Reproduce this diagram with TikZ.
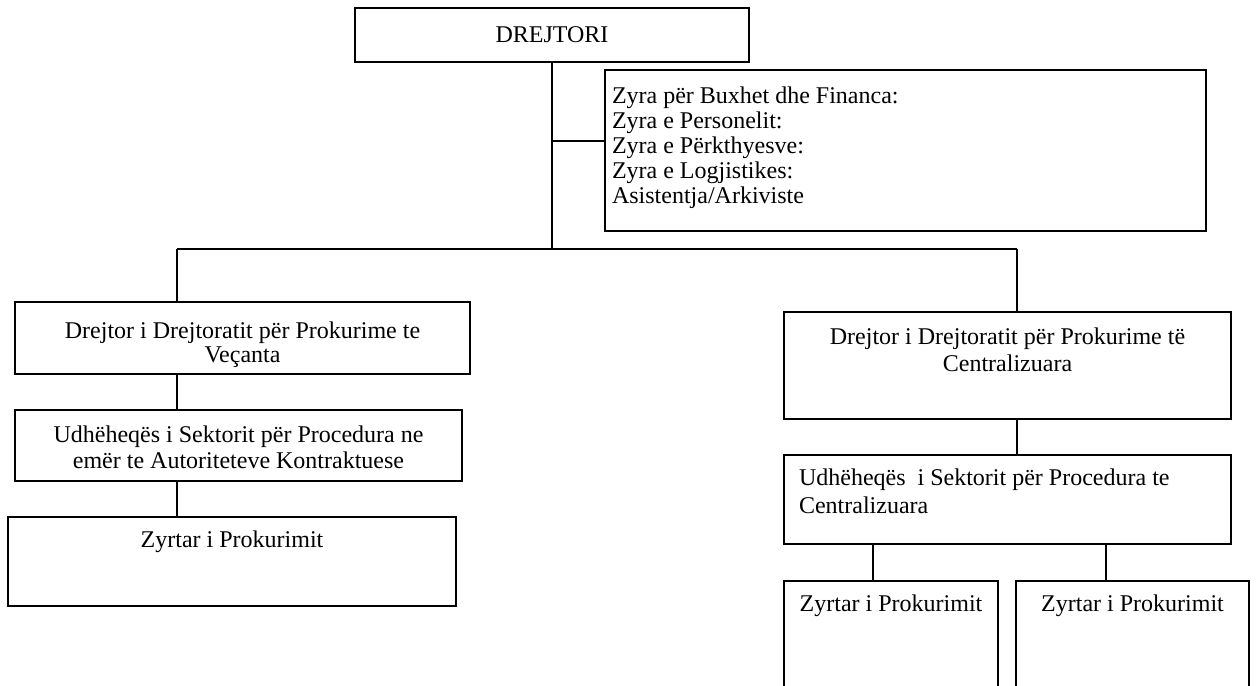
\documentclass[tikz,border=0pt]{standalone}
\usepackage{fontspec}
\setmainfont{Liberation Serif}
\begin{document}
\begin{tikzpicture}[x=0.5pt,y=-0.5pt,
  box/.style={draw=black, line width=1pt, inner sep=0pt, outer sep=0pt, anchor=north west, rectangle},
  conn/.style={draw=black, line width=1pt},
  lbl/.style={inner sep=0pt, outer sep=0pt, align=center, anchor=north},
  lbll/.style={inner sep=0pt, outer sep=0pt, align=left, anchor=north west}
]
\useasboundingbox (0,0) rectangle (1256,685);
\clip (0,0) rectangle (1256,685);
% boxes
\node[box, minimum width=197pt, minimum height=27pt] (D) at (355,8) {};
\node[box, minimum width=300.5pt, minimum height=80.5pt] (I) at (605,70) {};
\node[box, minimum width=227.5pt, minimum height=36pt] (L1) at (15,302) {};
\node[box, minimum width=223.5pt, minimum height=35.5pt] (L2) at (15,410) {};
\node[box, minimum width=224pt, minimum height=44.5pt] (L3) at (8,517) {};
\node[box, minimum width=223.5pt, minimum height=53.5pt] (R1) at (784,312) {};
\node[box, minimum width=223.5pt, minimum height=44.5pt] (R2) at (784,455) {};
\node[box, minimum width=107pt, minimum height=54.5pt] (R3) at (784,581) {};
\node[box, minimum width=116.5pt, minimum height=54.5pt] (R4) at (1016,581) {};
% texts
\node[lbl, font=\fontsize{12}{13}\selectfont] (tD) at (552,23.8) {\strut DREJTORI};
\node[lbll, font=\fontsize{12}{12.5}\selectfont] (tI) at (612,85.5) {\strut Zyra për Buxhet dhe Financa:\\\strut Zyra e Personelit:\\\strut Zyra e Përkthyesve:\\\strut Zyra e Logjistikes:\\\strut Asistentja/Arkiviste};
\node[lbl, font=\fontsize{12}{11}\selectfont] (tL1) at (242.5,321.6) {\strut Drejtor i Drejtoratit për Prokurime te\\\strut Veçanta};
\node[lbl, font=\fontsize{12}{11.5}\selectfont] (tL2) at (238.5,425.9) {\strut Udhëheqës i Sektorit për Procedura ne\\\strut emër te Autoriteteve Kontraktuese};
\node[lbl, font=\fontsize{12}{13}\selectfont] (tL3) at (232,528.8) {\strut Zyrtar i Prokurimit};
\node[lbl, font=\fontsize{12}{13.5}\selectfont] (tR1) at (1007.5,325.1) {\strut Drejtor i Drejtoratit për Prokurime të\\\strut Centralizuara};
\node[lbll, font=\fontsize{12}{14}\selectfont] (tR2) at (799,465.4) {\strut Udhëheqës~ i Sektorit për Procedura te\\\strut Centralizuara};
\node[lbl, font=\fontsize{12}{13}\selectfont] (tR3) at (891,592.8) {\strut Zyrtar i Prokurimit};
\node[lbl, font=\fontsize{12}{13}\selectfont] (tR4) at (1132.5,592.8) {\strut Zyrtar i Prokurimit};
% connectors
\coordinate (j) at (552,249);
\coordinate (b1) at (552,141);
\coordinate (jl) at (177,249);
\coordinate (jr) at (1017,249);
\coordinate (c3) at (873,0);
\coordinate (c4) at (1106,0);
\draw[conn] (D.south) -- (j);
\draw[conn] (b1) -- (b1 -| I.west);
\draw[conn] (jl) -- (jr);
\draw[conn] (jl) -- (jl |- L1.north);
\draw[conn] (jr) -- (jr |- R1.north);
\draw[conn] (jl |- L1.south) -- (jl |- L2.north);
\draw[conn] (jl |- L2.south) -- (jl |- L3.north);
\draw[conn] (jr |- R1.south) -- (jr |- R2.north);
\draw[conn] (c3 |- R2.south) -- (c3 |- R3.north);
\draw[conn] (c4 |- R2.south) -- (c4 |- R4.north);
\end{tikzpicture}
\end{document}
